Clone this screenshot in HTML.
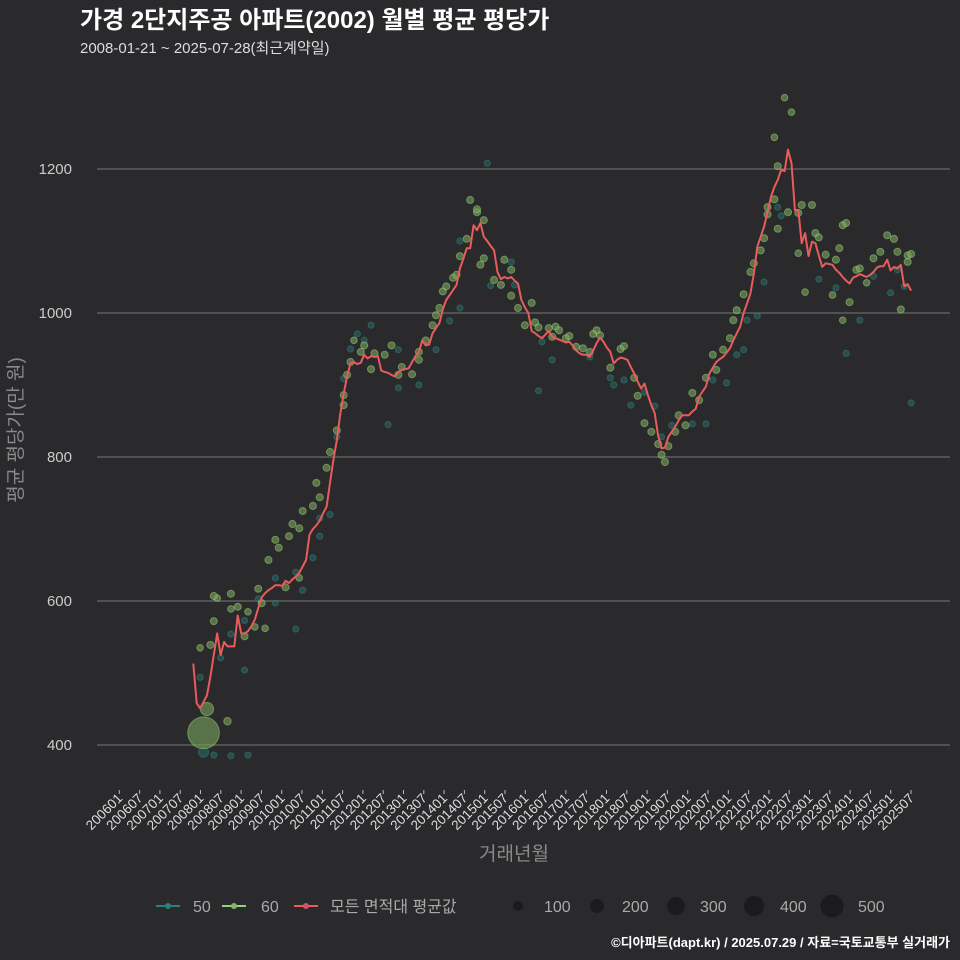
<!DOCTYPE html>
<html><head><meta charset="utf-8">
<style>
html,body{margin:0;padding:0;background:#2a292b;}
svg{display:block;font-family:"Liberation Sans","Noto Sans CJK KR",sans-serif;}
</style></head>
<body>
<svg id="chart" width="960" height="960" viewBox="0 0 960 960" xmlns="http://www.w3.org/2000/svg">
<rect x="0" y="0" width="960" height="960" fill="#2a292b"/>
<text x="80" y="28" fill="#ffffff" font-size="24" font-weight="bold">가경 2단지주공 아파트(2002) 월별 평균 평당가</text>
<text x="80" y="53" fill="#dddddd" font-size="15">2008-01-21 ~ 2025-07-28(최근계약일)</text>
<g id="grid"></g>
<g id="yaxis"></g>
<g id="xaxis"></g>
<g id="points"></g>
<g id="line"></g>
<text transform="translate(22,430) rotate(-90)" text-anchor="middle" fill="#8a8a8a" font-size="19">평균 평당가(만 원)</text>
<text x="514" y="860" text-anchor="middle" fill="#8a8a8a" font-size="19">거래년월</text>
<g>
 <g>
  <line x1="156" y1="906" x2="180" y2="906" stroke="#2a7f80" stroke-width="2"/><circle cx="168" cy="906" r="3" fill="#2a7f80"/>
  <text x="193" y="912" fill="#aaaaaa" font-size="16">50</text></g>
 <g>
  <line x1="222" y1="906" x2="246" y2="906" stroke="#8fd776" stroke-width="2"/><circle cx="234" cy="906" r="3" fill="#7fb86a"/>
  <text x="261" y="912" fill="#aaaaaa" font-size="16">60</text></g>
 <g>
  <line x1="294" y1="906" x2="318" y2="906" stroke="#e85c5c" stroke-width="2"/><circle cx="306" cy="906" r="3" fill="#c9586a"/>
  <text x="330" y="912" fill="#aaaaaa" font-size="16">모든 면적대 평균값</text></g>
 <g>
  <circle cx="518" cy="906" r="5" fill="#1b1a1c"/><text x="544" y="912" fill="#aaaaaa" font-size="16">100</text>
  <circle cx="597" cy="906" r="7" fill="#1b1a1c"/><text x="622" y="912" fill="#aaaaaa" font-size="16">200</text>
  <circle cx="676" cy="906" r="9" fill="#1b1a1c"/><text x="700" y="912" fill="#aaaaaa" font-size="16">300</text>
  <circle cx="754" cy="906" r="10" fill="#1b1a1c"/><text x="780" y="912" fill="#aaaaaa" font-size="16">400</text>
  <circle cx="832" cy="906" r="11.5" fill="#1b1a1c"/><text x="858" y="912" fill="#aaaaaa" font-size="16">500</text>
 </g>
</g>
<text x="950" y="947" text-anchor="end" fill="#ffffff" font-size="13" font-weight="bold">©디아파트(dapt.kr) / 2025.07.29 / 자료=국토교통부 실거래가</text>
</svg>
<script>
const yTicks=[400,600,800,1000,1200];
const xTickLabels=["200601","200607","200701","200707","200801","200807","200901","200907","201001","201007","201101","201107","201201","201207","201301","201307","201401","201407","201501","201507","201601","201607","201701","201707","201801","201807","201901","201907","202001","202007","202101","202107","202201","202207","202301","202307","202401","202407","202501","202507"];
// monthly average from 2008-01
const avgValues=[513,458,451,460,469,495,525,555,525,543,537,537,537,580,555,555,558,565,574,590,605,611,615,618,622,622,621,628,625,630,634,639,648,657,692,700,705,712,722,731,764,796,824,860,888,912,930,932,929,931,942,937,940,939,940,920,918,917,914,912,918,921,922,923,932,940,946,962,955,956,972,979,986,1005,1018,1025,1032,1039,1062,1075,1090,1090,1122,1115,1125,1106,1100,1093,1087,1057,1047,1050,1048,1050,1045,1041,1018,1008,1000,975,972,968,965,970,975,967,965,963,961,959,960,955,948,944,942,942,939,948,958,966,960,952,946,930,935,938,937,935,925,916,905,895,902,886,872,861,830,812,813,828,835,842,851,858,858,858,863,867,884,891,898,916,924,932,936,939,945,951,962,972,981,1000,1013,1027,1055,1092,1106,1120,1140,1161,1175,1185,1199,1197,1227,1208,1143,1143,1097,1111,1079,1099,1097,1080,1064,1069,1068,1067,1060,1056,1050,1045,1041,1049,1051,1054,1052,1050,1053,1057,1063,1065,1065,1074,1059,1064,1062,1067,1037,1040,1031];
// [monthIndex, value, count]
const greenPts=[[2,535,35],[5,539,40],[6,572,40],[7,604,35],[4,450,140],[3,417,800],[10,433,45],[6,607,40],[11,589,35],[11,610,40],[15,551,40],[13,592,40],[16,585,35],[19,617,40],[20,597,40],[22,657,40],[24,685,40],[25,674,40],[28,690,40],[29,707,40],[31,701,40],[32,725,40],[35,732,40],[36,764,40],[37,744,40],[39,785,40],[40,807,40],[27,619,40],[31,632,35],[21,562,35],[18,564,35],[44,872,40],[42,837,40],[44,886,40],[45,914,40],[46,932,40],[47,962,35],[49,946,40],[52,922,40],[50,955,40],[53,944,40],[56,942,40],[58,955,40],[60,914,40],[61,925,40],[64,915,40],[66,946,40],[66,935,40],[68,962,40],[70,983,40],[71,997,40],[72,1007,40],[73,1030,40],[74,1037,40],[76,1049,40],[77,1053,40],[78,1079,40],[80,1103,40],[83,1140,40],[83,1144,40],[81,1157,40],[85,1129,40],[85,1076,40],[84,1067,40],[91,1074,40],[93,1060,40],[88,1046,40],[90,1039,40],[93,1024,40],[95,1007,40],[99,1014,40],[97,983,40],[100,987,40],[101,980,40],[104,979,40],[105,967,40],[106,981,40],[107,976,40],[109,965,40],[110,968,40],[112,953,40],[114,951,40],[116,946,40],[117,971,40],[118,976,40],[119,969,40],[122,924,40],[125,950,40],[126,954,40],[129,910,40],[130,885,40],[132,847,40],[134,835,40],[136,818,40],[137,803,40],[138,793,40],[139,815,40],[141,835,40],[142,858,40],[144,844,40],[146,889,40],[148,879,40],[150,910,40],[152,942,40],[153,921,40],[155,949,40],[157,965,40],[158,990,40],[159,1004,40],[161,1026,40],[163,1057,40],[164,1069,40],[166,1087,40],[168,1137,40],[168,1147,40],[167,1104,40],[170,1158,40],[170,1244,35],[171,1204,40],[173,1299,35],[175,1279,35],[171,1117,40],[174,1140,40],[177,1139,40],[178,1150,40],[177,1083,35],[179,1029,35],[181,1150,40],[182,1111,40],[183,1105,40],[185,1081,40],[187,1025,35],[188,1074,40],[189,1090,40],[190,1122,40],[191,1125,40],[192,1015,40],[190,990,35],[194,1060,40],[195,1062,40],[197,1042,35],[199,1076,40],[201,1085,40],[203,1108,40],[205,1103,40],[206,1085,40],[207,1005,40],[209,1080,40],[209,1071,40],[210,1082,40]];
const tealPts=[[3,390,80],[6,386,30],[11,385,30],[16,386,30],[2,494,30],[8,521,30],[11,554,30],[15,573,30],[15,504,30],[19,603,30],[24,632,30],[24,597,30],[30,640,30],[30,561,30],[32,615,30],[35,660,30],[37,690,30],[40,720,30],[37,715,30],[42,828,30],[44,909,30],[46,950,30],[48,971,30],[50,962,30],[52,983,30],[57,845,30],[60,949,30],[60,896,30],[66,900,30],[71,949,30],[75,989,30],[78,1007,30],[78,1100,30],[86,1208,30],[93,1071,30],[94,1039,30],[87,1038,30],[101,892,30],[102,960,30],[105,935,30],[116,939,30],[122,910,30],[123,900,30],[126,907,30],[128,872,30],[132,890,30],[135,871,30],[137,828,30],[140,844,30],[146,846,30],[150,846,30],[152,907,30],[156,903,30],[159,942,30],[161,949,30],[162,990,30],[165,996,30],[167,1043,30],[171,1147,30],[172,1135,30],[183,1047,30],[188,1035,30],[191,944,30],[195,990,30],[199,1051,30],[204,1028,30],[206,1060,30],[208,1037,30],[210,875,30]];

const NS="http://www.w3.org/2000/svg";
function yScale(v){return 745-(v-400)*0.72;}
function xTick(k){return 119.3+k*20.3;}
function xData(i){return 193.3+i*3.418;}
function rSize(n){return 0.56*Math.sqrt(n);}
function mk(tag,attrs,parent){const e=document.createElementNS(NS,tag);for(const k in attrs)e.setAttribute(k,attrs[k]);parent.appendChild(e);return e;}

const grid=document.getElementById('grid'),yax=document.getElementById('yaxis'),xax=document.getElementById('xaxis');
yTicks.forEach(v=>{
  const g=mk('line',{x1:97,x2:950,y1:yScale(v),y2:yScale(v),stroke:'#6a6a6a','stroke-width':1.2},grid);
  
  
  const t=mk('text',{x:72,y:yScale(v)+5,'text-anchor':'end',fill:'#cccccc','font-size':15},yax);
  t.textContent=v;
  
  
});
xTickLabels.forEach((lab,k)=>{
  const x=xTick(k);
  const tk=mk('line',{x1:x,x2:x,y1:790,y2:794,stroke:'#bbbbbb','stroke-width':1},xax);
  
  
  const t=mk('text',{transform:`translate(${x+4},${799}) rotate(-45)`,'text-anchor':'end',fill:'#dddddd','font-size':13.5},xax);
  t.textContent=lab;
  
  
});
const pg=document.getElementById('points');
tealPts.forEach(p=>{
  const c=mk('circle',{cx:xData(p[0]),cy:yScale(p[1]),r:rSize(p[2]),fill:'rgba(40,105,105,0.55)',stroke:'rgba(55,125,122,0.55)','stroke-width':1},pg);
  
  
});
greenPts.forEach(p=>{
  const c=mk('circle',{cx:xData(p[0]),cy:yScale(p[1]),r:rSize(p[2]),fill:'rgba(120,165,90,0.6)',stroke:'rgba(160,210,130,0.5)','stroke-width':1},pg);
  
  
});
const d=avgValues.map((v,i)=>(i?'L':'M')+xData(i).toFixed(1)+','+yScale(v).toFixed(1)).join('');
const path=mk('path',{d:d,fill:'none',stroke:'#e85c5c','stroke-width':2,'stroke-linejoin':'round'},document.getElementById('line'));


</script>
</body></html>
